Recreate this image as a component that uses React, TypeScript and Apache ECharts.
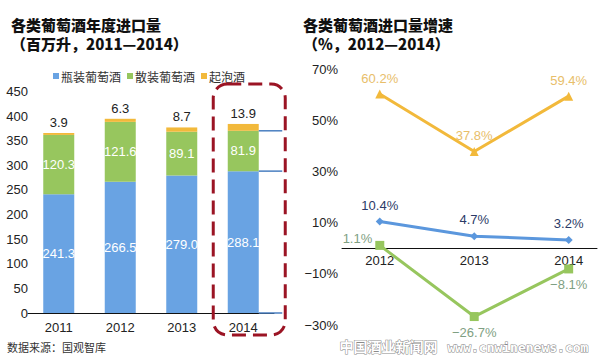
import React, { useEffect, useRef } from "react";
import * as echarts from "echarts";

const years = ["2011", "2012", "2013", "2014"];
const bottled = [241.3, 266.5, 279.0, 288.1];
const bulk = [120.3, 121.6, 89.1, 81.9];
const sparkling = [3.9, 6.3, 8.7, 13.9];
const seriesNames = ["瓶装葡萄酒", "散装葡萄酒", "起泡酒"];

const growthYears = [2012, 2013, 2014];
const bottledGrowth = [10.4, 4.7, 3.2];
const bulkGrowth = [1.1, -26.7, -8.1];
const sparklingGrowth = [60.2, 37.8, 59.4];

const BLUE = "#69a3e3";
const GREEN = "#97c65e";
const ORANGE = "#f2b93b";
const LINE_BLUE = "#5b97dd";
const DARK_RED = "#9b1424";
const FONT = "'Liberation Sans', Arial, 'Noto Sans CJK SC', sans-serif";
const CJK = "'Noto Sans CJK SC', sans-serif";

const fmtPct = (v: number) => (v < 0 ? "\u2212" + Math.abs(v) : String(v)) + "%";
const fmtPctLabel = (v: number) => (v < 0 ? "\u2212" + Math.abs(v).toFixed(1) : v.toFixed(1)) + "%";

export default function App() {
  const ref = useRef<HTMLDivElement>(null);
  useEffect(() => {
    if (!ref.current) return;
    const chart = echarts.init(ref.current, null, { renderer: "svg" });
    const pair = (vals: number[]) => vals.map((v, i) => [growthYears[i], v]);
    const titleStyle = { fontFamily: CJK, fontSize: 15, fontWeight: 900, color: "#111", lineHeight: 19 };
    const option: any = {
      animation: false,
      backgroundColor: "#ffffff",
      textStyle: { fontFamily: FONT },
      title: [
        { text: "各类葡萄酒年度进口量\n（百万升，2011—2014）", left: 6, top: 10, textStyle: titleStyle },
        { text: "各类葡萄酒进口量增速\n（%，2012—2014）", left: 298, top: 10, textStyle: titleStyle },
      ],
      legend: {
        data: seriesNames,
        left: 48,
        top: 65,
        icon: "rect",
        itemWidth: 6,
        itemHeight: 6,
        itemGap: 6,
        textStyle: { fontFamily: CJK, fontSize: 12, color: "#333", padding: [0, 0, 0, -3] },
      },
      grid: [
        { left: 28, right: 326, top: 91.4, bottom: 44 },
        { left: 342, right: 3, top: 69, bottom: 32 },
      ],
      xAxis: [
        {
          gridIndex: 0,
          type: "category",
          data: years,
          axisLine: { lineStyle: { color: "#111", width: 1 } },
          axisTick: { show: false },
          axisLabel: { fontSize: 13, color: "#222", margin: 8 },
        },
        {
          gridIndex: 1,
          type: "value",
          min: 2011.6,
          max: 2014.3,
          axisLine: { onZero: false, lineStyle: { color: "#111", width: 1 } },
          axisTick: { show: false },
          splitLine: { show: false },
          axisLabel: { customValues: growthYears, fontSize: 13, color: "#222", margin: 6, formatter: (v: number) => String(v) },
        },
      ],
      yAxis: [
        {
          gridIndex: 0,
          type: "value",
          min: 0,
          max: 450,
          interval: 50,
          axisLine: { show: false },
          axisTick: { show: false },
          splitLine: { show: false },
          axisLabel: { fontSize: 13, color: "#222", margin: 0 },
        },
        {
          gridIndex: 1,
          type: "value",
          min: -30,
          max: 70,
          interval: 20,
          axisLine: { show: false },
          axisTick: { show: false },
          splitLine: { show: false },
          axisLabel: { fontSize: 13, color: "#222", margin: 4, formatter: fmtPct },
        },
      ],
      series: [
        {
          name: seriesNames[0],
          type: "bar",
          stack: "vol",
          xAxisIndex: 0,
          yAxisIndex: 0,
          barWidth: 31,
          data: bottled,
          itemStyle: { color: BLUE },
          label: { show: true, position: "inside", color: "#fff", fontSize: 13, formatter: (p: any) => p.value.toFixed(1) },
        },
        {
          name: seriesNames[1],
          type: "bar",
          stack: "vol",
          xAxisIndex: 0,
          yAxisIndex: 0,
          barWidth: 31,
          data: bulk,
          itemStyle: { color: GREEN },
          label: { show: true, position: "inside", color: "#fff", fontSize: 13, formatter: (p: any) => p.value.toFixed(1) },
        },
        {
          name: seriesNames[2],
          type: "bar",
          stack: "vol",
          xAxisIndex: 0,
          yAxisIndex: 0,
          barWidth: 31,
          data: sparkling,
          itemStyle: { color: ORANGE },
          label: { show: true, position: "top", distance: 4, color: "#222", fontSize: 13, formatter: (p: any) => p.value.toFixed(1) },
        },
        {
          name: "瓶装增速",
          type: "line",
          xAxisIndex: 1,
          yAxisIndex: 1,
          data: pair(bottledGrowth),
          symbol: "diamond",
          symbolSize: 8,
          lineStyle: { color: LINE_BLUE, width: 3 },
          itemStyle: { color: LINE_BLUE },
          label: { show: true, position: "top", distance: 6, color: "#2b3a67", fontSize: 13, formatter: (p: any) => fmtPctLabel(p.value[1]) },
        },
        {
          name: "散装增速",
          type: "line",
          xAxisIndex: 1,
          yAxisIndex: 1,
          data: pair(bulkGrowth).map((d, i) =>
            i === 0
              ? { value: d, label: { position: "left", offset: [2, -7] } }
              : { value: d, label: { position: "bottom", distance: 5 } }
          ),
          symbol: "rect",
          symbolSize: 9,
          lineStyle: { color: GREEN, width: 3 },
          itemStyle: { color: GREEN },
          label: { show: true, color: "#7f9f83", fontSize: 13, formatter: (p: any) => fmtPctLabel(p.value[1]) },
        },
        {
          name: "起泡增速",
          type: "line",
          xAxisIndex: 1,
          yAxisIndex: 1,
          data: pair(sparklingGrowth),
          symbol: "triangle",
          symbolSize: 9,
          lineStyle: { color: ORANGE, width: 3 },
          itemStyle: { color: ORANGE },
          label: { show: true, position: "top", distance: 5, color: "#e8be6a", fontSize: 13, formatter: (p: any) => fmtPctLabel(p.value[1]) },
        },
      ],
    };
    chart.setOption(option);

    // move the right x axis (line + labels) up to the zero of its y axis
    const y0 = chart.convertToPixel({ yAxisIndex: 1 }, 0) as number;
    const yMin = chart.convertToPixel({ yAxisIndex: 1 }, -30) as number;
    chart.setOption({ xAxis: [{}, { offset: -(yMin - y0) }] });

    const last = years.length - 1;
    const topBottled = chart.convertToPixel({ xAxisIndex: 0, yAxisIndex: 0 }, [last, bottled[last]]);
    const topBulk = chart.convertToPixel({ xAxisIndex: 0, yAxisIndex: 0 }, [last, bottled[last] + bulk[last]]);
    const base = chart.convertToPixel({ xAxisIndex: 0, yAxisIndex: 0 }, [last, 0]);
    const cx = base[0];
    const x1 = cx + 15.5;
    const x2 = cx + 39;
    const lineStyle = { stroke: "#4a7fc0", lineWidth: 1.5 };
    chart.setOption({
      graphic: [
        { type: "line", shape: { x1, y1: topBottled[1], x2, y2: topBottled[1] }, style: lineStyle, z: 10 },
        { type: "line", shape: { x1, y1: topBulk[1], x2, y2: topBulk[1] }, style: lineStyle, z: 10 },
        { type: "line", shape: { x1, y1: base[1], x2, y2: base[1] }, style: lineStyle, z: 10 },
        {
          type: "rect",
          shape: { x: cx - 30, y: 84, width: 72, height: 251, r: 14 },
          style: { fill: "none", stroke: DARK_RED, lineWidth: 3, lineDash: [14, 7] },
          z: 10,
        },
        {
          type: "text",
          left: 7,
          top: 341,
          style: { text: "数据来源：国观智库", fontFamily: CJK, fontSize: 11, fill: "#333" },
        },
        {
          type: "text",
          left: 339,
          top: 338,
          style: { text: "中国酒业新闻网", fontFamily: CJK, fontSize: 14, fontWeight: "bold", fill: "#fff", stroke: "#8a8a8a", lineWidth: 1 },
          z: 20,
        },
        {
          type: "text",
          left: 447,
          top: 340,
          style: { text: "www.cnwinenews.com", fontFamily: "'DejaVu Sans Mono', monospace", fontSize: 13, fontWeight: "bold", fill: "#fff", stroke: "#8a8a8a", lineWidth: 1 },
          z: 20,
        },
      ],
    });

    return () => chart.dispose();
  }, []);
  return <div ref={ref} style={{ position: "fixed", left: 0, top: 0, width: 600, height: 357 }} />;
}
